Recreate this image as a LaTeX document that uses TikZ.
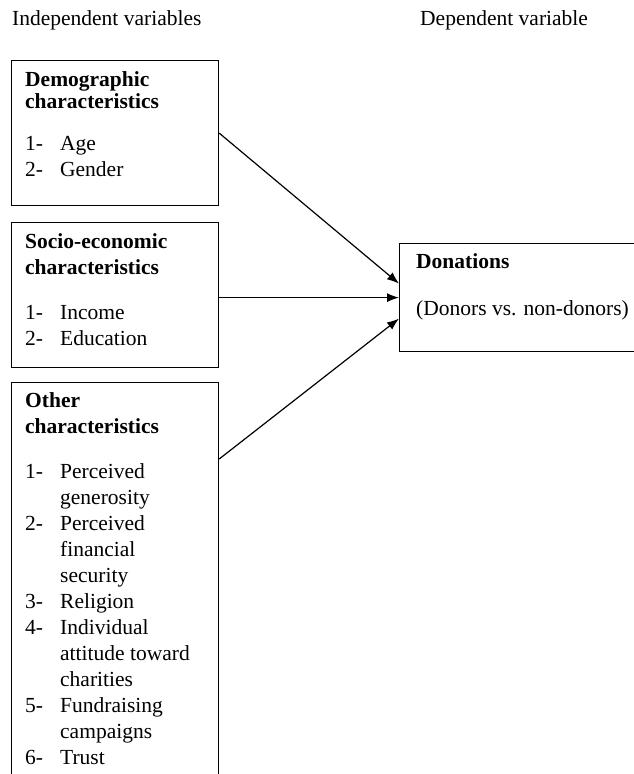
\documentclass[tikz,border=0pt]{standalone}
\usepackage{fontspec}
\setmainfont{Liberation Serif}
\usetikzlibrary{arrows.meta}
\newcommand{\numit}[1]{\makebox[35pt][l]{#1}}
\newcommand{\contit}{\hspace*{35pt}}

\begin{document}
\begin{tikzpicture}[x=1pt,y=-1pt,
    every node/.style={font=\fontsize{21.5}{26}\selectfont},
    varbox/.style={draw,line width=1.2pt,inner sep=0,anchor=north west},
    boxtext/.style={anchor=base west,inner sep=0},
    link/.style={line width=1.2pt,-{Latex[length=12pt,width=9pt]}}]%
    \useasboundingbox (0,0) rectangle (634,774);
    \clip (0,0) rectangle (634,774);
    \node[boxtext] (indep) at (12,25) {Independent variables}; %%
    \node[boxtext] (dep) at (420,25) {Dependent variable}; %%
    % boxes
    \node[varbox,minimum width=207,minimum height=145] (demo) at (11,60) {}; %%
    \node[varbox,minimum width=207,minimum height=145] (socio) at (11,222) {}; %%
    \node[varbox,minimum width=207,minimum height=430] (other) at (11,382) {}; %%
    \node[varbox,minimum width=280,minimum height=108] (don) at (399,243) {}; %%
    % texts
    \node[boxtext] (demotxt) at (25,86) {\parbox[t]{190pt}{%
        \textbf{Demographic}\\[-4pt]\textbf{characteristics}\\[16pt]
        \numit{1-}Age\\ \numit{2-}Gender}}; %%
    \node[boxtext] (sociotxt) at (25,248) {\parbox[t]{190pt}{%
        \textbf{Socio-economic}\\ \textbf{characteristics}\\[19pt]
        \numit{1-}Income\\ \numit{2-}Education}}; %%
    \node[boxtext] (othertxt) at (25,407) {\parbox[t]{190pt}{%
        \textbf{Other}\\ \textbf{characteristics}\\[19pt]
        \numit{1-}Perceived\\ \contit generosity\\
        \numit{2-}Perceived\\ \contit financial\\ \contit security\\
        \numit{3-}Religion\\
        \numit{4-}Individual\\ \contit attitude toward\\ \contit charities\\
        \numit{5-}Fundraising\\ \contit campaigns\\
        \numit{6-}Trust}}; %%
    \node[boxtext] (dontxt) at (416,268) {\parbox[t]{220pt}{%
        \textbf{Donations}\\[21pt](Donors vs. non-donors)}}; %%
    % arrows
    \coordinate (otherout) at ([yshift=-77pt]other.north east);
    \coordinate (in1) at ([yshift=14pt]don.west);
    \coordinate (in3) at ([yshift=-21pt]don.west);
    \draw[link] (demo.east)--(in1); %%
    \draw[link] (socio.east |- don.west)--(don.west); %%
    \draw[link] (otherout)--(in3); %%
\end{tikzpicture}
\end{document}
